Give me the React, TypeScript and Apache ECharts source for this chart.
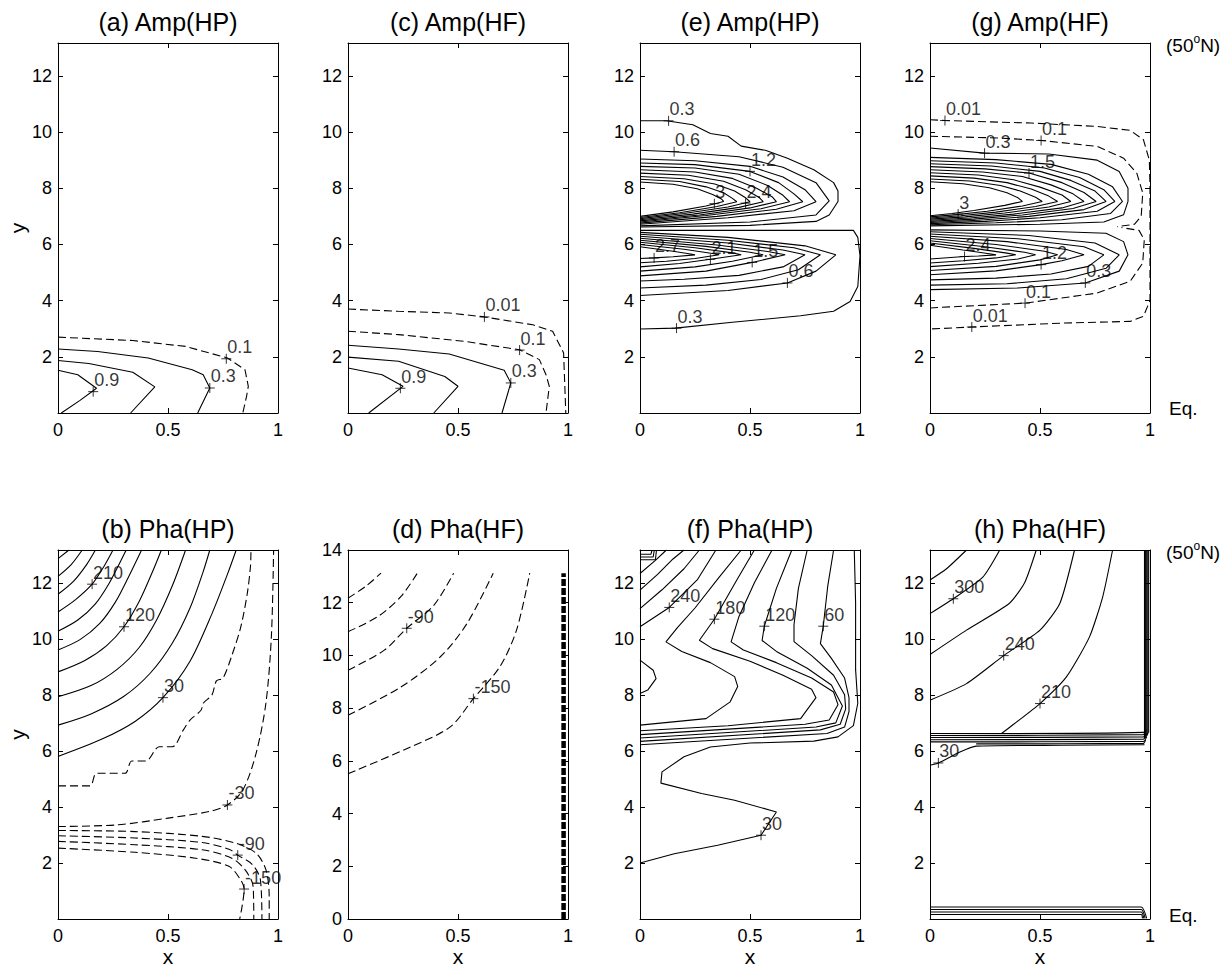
import React, { useEffect, useRef } from "react";
import * as echarts from "echarts";

type Pt = [number, number];
type Lbl = [number, number, string];

const FONT = '"Liberation Sans", Arial, Helvetica, sans-serif';

// ---------- axes ----------
const xTickValues = [0, 0.5, 1];
const xTickLabels = ["0", "0.5", "1"];
const yTickValuesAmp = [2, 4, 6, 8, 10, 12];
const yTickValuesD = [0, 2, 4, 6, 8, 10, 12, 14];
const Y_MAX = 13.17;
const Y_MAX_D = 14;

// ---------- (a) Amp(HP) ----------
const aSolid: Pt[][] = [
  [[0, 2.28], [0.18, 2.19], [0.41, 1.96], [0.61, 1.54], [0.66, 1.36], [0.69, 0.89], [0.635, 0]],
  [[0, 1.87], [0.14, 1.76], [0.34, 1.45], [0.44, 0.93], [0.33, 0]],
  [[0, 1.52], [0.09, 1.36], [0.175, 0.88], [0.1, 0.45], [0.015, 0]],
];
const aDashed: Pt[][] = [
  [[0, 2.7], [0.34, 2.58], [0.58, 2.37], [0.77, 1.96], [0.85, 1.54], [0.865, 0.95], [0.857, 0.59], [0.84, 0]],
];
const aLabels: Lbl[] = [[0.765, 1.93, "0.1"], [0.69, 0.89, "0.3"], [0.16, 0.76, "0.9"]];

// ---------- (c) Amp(HF) ----------
const cSolid: Pt[][] = [
  [[0, 2.41], [0.23, 2.28], [0.46, 2.1], [0.71, 1.52], [0.74, 1.07], [0.7, 0]],
  [[0, 1.99], [0.23, 1.84], [0.44, 1.3], [0.5, 0.95], [0.39, 0]],
  [[0, 1.6], [0.155, 1.36], [0.25, 0.95], [0.094, 0]],
];
const cDashed: Pt[][] = [
  [[0, 3.7], [0.23, 3.62], [0.46, 3.56], [0.62, 3.42], [0.84, 3.14], [0.93, 2.91], [0.98, 2.14], [0.99, 0]],
  [[0, 2.91], [0.23, 2.79], [0.53, 2.55], [0.78, 2.25], [0.87, 1.9], [0.9, 1.36], [0.915, 0.95], [0.9, 0]],
];
const cLabels: Lbl[] = [[0.62, 3.42, "0.01"], [0.78, 2.24, "0.1"], [0.74, 1.07, "0.3"], [0.238, 0.88, "0.9"]];

// ---------- (e) Amp(HP) ----------
const eSolid: Pt[][] = [
  [[0, 10.4], [0.12, 10.4], [0.24, 10.26], [0.32, 9.95], [0.4, 9.85], [0.46, 9.5], [0.57, 9.35], [0.67, 9.07], [0.79, 8.66], [0.88, 8.2], [0.9, 7.9], [0.9, 7.53], [0.86, 7.05], [0.8, 6.82], [0.5, 6.68], [0, 6.62]],
  [[0, 9.35], [0.155, 9.3], [0.45, 9.12], [0.65, 8.75], [0.8, 8.2], [0.86, 7.55], [0.8, 7.05], [0.5, 6.8], [0, 6.66]],
  [[0, 9.04], [0.25, 8.98], [0.5, 8.78], [0.65, 8.4], [0.75, 7.95], [0.8, 7.52], [0.7, 7.2], [0.4, 6.95], [0, 6.72]],
  [[0, 8.9], [0.25, 8.84], [0.5, 8.6], [0.63, 8.2], [0.7, 7.8], [0.74, 7.52], [0.62, 7.25], [0.35, 7.0], [0, 6.76]],
  [[0, 8.78], [0.25, 8.72], [0.45, 8.5], [0.58, 8.1], [0.65, 7.75], [0.68, 7.52], [0.55, 7.27], [0.3, 7.03], [0, 6.8]],
  [[0, 8.66], [0.25, 8.58], [0.42, 8.35], [0.53, 8.0], [0.6, 7.7], [0.62, 7.52], [0.5, 7.3], [0.27, 7.05], [0, 6.84]],
  [[0, 8.54], [0.22, 8.46], [0.38, 8.25], [0.48, 7.95], [0.54, 7.68], [0.56, 7.52], [0.45, 7.32], [0.24, 7.08], [0, 6.88]],
  [[0, 8.42], [0.2, 8.34], [0.34, 8.15], [0.43, 7.9], [0.48, 7.66], [0.5, 7.52], [0.4, 7.33], [0.2, 7.1], [0, 6.92]],
  [[0, 8.32], [0.18, 8.24], [0.3, 8.05], [0.38, 7.84], [0.42, 7.64], [0.44, 7.52], [0.35, 7.35], [0.18, 7.13], [0, 6.96]],
  [[0, 8.22], [0.15, 8.14], [0.26, 7.98], [0.33, 7.78], [0.37, 7.62], [0.38, 7.53], [0.3, 7.37], [0.15, 7.16], [0, 7.0]],
  [[0, 6.5], [0.5, 6.5], [0.97, 6.5], [0.99, 6.25], [1.0, 5.6], [0.99, 4.5], [0.955, 3.97], [0.88, 3.62], [0.73, 3.46], [0.42, 3.23], [0.16, 3.02], [0, 2.99]],
  [[0, 6.43], [0.4, 6.25], [0.75, 5.95], [0.89, 5.63], [0.8, 5.05], [0.67, 4.63], [0.4, 4.36], [0, 4.18]],
  [[0, 6.36], [0.4, 6.15], [0.7, 5.88], [0.82, 5.63], [0.72, 5.1], [0.55, 4.75], [0.3, 4.55], [0, 4.45]],
  [[0, 6.29], [0.4, 6.05], [0.65, 5.8], [0.75, 5.63], [0.65, 5.2], [0.45, 4.9], [0.2, 4.76], [0, 4.7]],
  [[0, 6.22], [0.35, 5.98], [0.58, 5.75], [0.66, 5.63], [0.51, 5.36], [0.3, 5.05], [0, 4.88]],
  [[0, 6.15], [0.3, 5.93], [0.5, 5.72], [0.56, 5.63], [0.42, 5.4], [0.25, 5.2], [0, 5.05]],
  [[0, 6.08], [0.25, 5.88], [0.42, 5.7], [0.46, 5.63], [0.32, 5.47], [0.18, 5.32], [0, 5.2]],
  [[0, 6.0], [0.2, 5.83], [0.33, 5.68], [0.36, 5.63], [0.25, 5.5], [0.12, 5.4], [0, 5.35]],
  [[0, 5.92], [0.15, 5.76], [0.23, 5.66], [0.25, 5.63], [0.15, 5.56], [0.064, 5.52], [0, 5.5]],
];
const eLabels: Lbl[] = [
  [0.13, 10.4, "0.3"], [0.155, 9.3, "0.6"], [0.5, 8.6, "1.2"], [0.338, 7.45, "3"], [0.48, 7.47, "2.4"],
  [0.064, 5.52, "2.7"], [0.32, 5.47, "2.1"], [0.51, 5.36, "1.5"], [0.67, 4.63, "0.6"], [0.166, 3.02, "0.3"],
];

// ---------- (g) Amp(HF) ----------
const gDashed: Pt[][] = [
  [[0, 10.44], [0.068, 10.41], [0.46, 10.32], [0.76, 10.2], [0.91, 10.06], [0.97, 9.73], [0.997, 9.0], [1.0, 8.07], [1.0, 6.0], [1.0, 4.0], [0.97, 3.44], [0.91, 3.26], [0.6, 3.2], [0.19, 3.06], [0, 2.99]],
  [[0, 9.85], [0.31, 9.79], [0.505, 9.7], [0.76, 9.49], [0.88, 9.07], [0.94, 8.54], [0.967, 7.83], [0.96, 7.0], [0.93, 6.72], [0.85, 6.63]],
  [[0, 3.74], [0.432, 3.91], [0.76, 4.27], [0.91, 4.69], [0.967, 5.34], [0.974, 6.17], [0.95, 6.5], [0.87, 6.6]],
];
const gSolid: Pt[][] = [
  [[0, 9.43], [0.248, 9.25], [0.54, 9.22], [0.76, 9.0], [0.86, 8.6], [0.9, 8.0], [0.9, 7.53], [0.88, 7.06], [0.79, 6.8], [0.5, 6.72], [0, 6.66]],
  [[0, 9.1], [0.3, 9.02], [0.55, 8.85], [0.72, 8.5], [0.83, 8.05], [0.875, 7.53], [0.82, 7.1], [0.6, 6.88], [0.3, 6.77], [0, 6.7]],
  [[0, 8.98], [0.3, 8.9], [0.52, 8.72], [0.68, 8.38], [0.79, 7.95], [0.84, 7.53], [0.76, 7.18], [0.5, 6.95], [0.25, 6.82], [0, 6.74]],
  [[0, 8.87], [0.28, 8.79], [0.5, 8.6], [0.64, 8.28], [0.75, 7.9], [0.8, 7.53], [0.7, 7.24], [0.45, 7.0], [0.22, 6.86], [0, 6.78]],
  [[0, 8.77], [0.25, 8.69], [0.45, 8.54], [0.6, 8.2], [0.7, 7.85], [0.755, 7.53], [0.65, 7.28], [0.42, 7.05], [0.2, 6.9], [0, 6.82]],
  [[0, 8.66], [0.24, 8.58], [0.42, 8.42], [0.55, 8.12], [0.65, 7.8], [0.7, 7.53], [0.6, 7.3], [0.38, 7.08], [0.18, 6.94], [0, 6.86]],
  [[0, 8.55], [0.22, 8.47], [0.38, 8.3], [0.5, 8.04], [0.6, 7.76], [0.64, 7.53], [0.54, 7.33], [0.34, 7.12], [0.16, 6.98], [0, 6.9]],
  [[0, 8.44], [0.2, 8.36], [0.35, 8.2], [0.46, 7.97], [0.54, 7.72], [0.58, 7.53], [0.48, 7.35], [0.3, 7.15], [0.14, 7.02], [0, 6.94]],
  [[0, 8.33], [0.18, 8.26], [0.32, 8.1], [0.41, 7.9], [0.48, 7.68], [0.51, 7.53], [0.42, 7.37], [0.26, 7.18], [0.12, 7.06], [0, 6.98]],
  [[0, 8.23], [0.15, 8.16], [0.27, 8.02], [0.35, 7.84], [0.4, 7.66], [0.42, 7.53], [0.34, 7.39], [0.2, 7.21], [0.1, 7.1], [0, 7.02]],
  [[0, 6.52], [0.5, 6.48], [0.8, 6.4], [0.88, 6.1], [0.9, 5.63], [0.86, 5.05], [0.706, 4.63], [0.4, 4.45], [0, 4.39]],
  [[0, 6.45], [0.45, 6.32], [0.75, 6.05], [0.86, 5.63], [0.8, 5.15], [0.62, 4.78], [0.35, 4.6], [0, 4.55]],
  [[0, 6.37], [0.4, 6.2], [0.7, 5.92], [0.79, 5.63], [0.72, 5.22], [0.55, 4.95], [0.3, 4.8], [0, 4.74]],
  [[0, 6.29], [0.35, 6.1], [0.62, 5.82], [0.7, 5.63], [0.6, 5.42], [0.505, 5.28], [0.3, 5.06], [0, 4.92]],
  [[0, 6.21], [0.3, 6.0], [0.52, 5.76], [0.58, 5.63], [0.5, 5.45], [0.3, 5.22], [0, 5.07]],
  [[0, 6.13], [0.25, 5.92], [0.43, 5.72], [0.48, 5.63], [0.4, 5.48], [0.22, 5.33], [0, 5.21]],
  [[0, 6.05], [0.2, 5.86], [0.35, 5.69], [0.39, 5.63], [0.3, 5.52], [0.15, 5.42], [0, 5.34]],
  [[0, 5.97], [0.15, 5.8], [0.27, 5.67], [0.3, 5.63], [0.22, 5.59], [0.157, 5.57], [0, 5.48]],
];
const gLabels: Lbl[] = [
  [0.068, 10.41, "0.01"], [0.505, 9.7, "0.1"], [0.248, 9.25, "0.3"], [0.45, 8.54, "1.5"], [0.128, 7.08, "3"],
  [0.157, 5.57, "2.4"], [0.505, 5.28, "1.2"], [0.706, 4.63, "0.3"], [0.432, 3.91, "0.1"], [0.19, 3.06, "0.01"],
];

// ---------- (b) Pha(HP) ----------
const bSolid: Pt[][] = [
  [[0, 5.8], [0.2, 6.42], [0.35, 7.05], [0.477, 7.9], [0.6, 9.2], [0.7, 10.9], [0.77, 12.3], [0.81, 13.17]],
  [[0, 6.92], [0.15, 7.32], [0.3, 7.95], [0.42, 8.78], [0.52, 9.85], [0.6, 11.1], [0.66, 12.4], [0.69, 13.17]],
  [[0, 7.93], [0.15, 8.33], [0.27, 8.92], [0.37, 9.7], [0.45, 10.7], [0.52, 11.9], [0.58, 13.17]],
  [[0, 8.82], [0.12, 9.22], [0.22, 9.75], [0.3, 10.43], [0.37, 11.35], [0.43, 12.4], [0.47, 13.17]],
  [[0, 9.6], [0.1, 9.97], [0.19, 10.55], [0.26, 11.3], [0.32, 12.2], [0.38, 13.17]],
  [[0, 10.27], [0.09, 10.67], [0.17, 11.25], [0.23, 11.95], [0.28, 12.7], [0.31, 13.17]],
  [[0, 10.96], [0.08, 11.4], [0.155, 11.95], [0.21, 12.6], [0.25, 13.17]],
  [[0, 11.59], [0.07, 12.05], [0.13, 12.65], [0.17, 13.17]],
  [[0, 12.23], [0.06, 12.65], [0.11, 13.17]],
  [[0, 12.86], [0.05, 13.17]],
];
const bDashed: Pt[][] = [
  [[0, 4.75], [0.145, 4.75], [0.175, 5.2], [0.305, 5.2], [0.335, 5.64], [0.4, 5.64], [0.46, 6.15], [0.52, 6.15], [0.57, 6.75], [0.6, 7.1], [0.65, 7.45], [0.66, 7.7], [0.7, 8.0], [0.72, 8.5], [0.75, 8.6], [0.79, 9.4], [0.83, 10.4], [0.86, 11.6], [0.875, 12.6], [0.877, 13.17]],
  [[0, 3.3], [0.27, 3.36], [0.5, 3.6], [0.69, 3.84], [0.77, 4.07], [0.84, 4.6], [0.9, 5.9], [0.945, 7.7], [0.97, 10.1], [0.98, 13.17]],
  [[0, 3.16], [0.35, 3.12], [0.655, 2.95], [0.81, 2.7], [0.9, 2.35], [0.945, 1.76], [0.96, 0.8], [0.96, 0]],
  [[0, 2.97], [0.35, 2.89], [0.655, 2.73], [0.78, 2.48], [0.817, 2.28], [0.884, 1.94], [0.92, 1.4], [0.927, 0]],
  [[0, 2.77], [0.35, 2.65], [0.655, 2.47], [0.79, 2.17], [0.85, 1.76], [0.887, 1.16], [0.89, 0]],
  [[0, 2.53], [0.35, 2.38], [0.625, 2.17], [0.777, 1.88], [0.83, 1.4], [0.846, 1.07], [0.826, 0]],
];
const bLabels: Lbl[] = [
  [0.155, 11.95, "210"], [0.3, 10.43, "120"], [0.477, 7.9, "30"], [0.77, 4.07, "-30"], [0.817, 2.28, "-90"], [0.846, 1.07, "-150"],
];

// ---------- (d) Pha(HF) ----------
const dDashed: Pt[][] = [
  [[0, 12.17], [0.08, 12.62], [0.15, 13.12]],
  [[0, 10.9], [0.135, 11.47], [0.24, 12.23], [0.315, 13.12]],
  [[0, 9.44], [0.165, 10.2], [0.267, 11.03], [0.39, 11.9], [0.48, 13.12]],
  [[0, 7.73], [0.24, 8.8], [0.42, 9.95], [0.54, 11.2], [0.66, 13.12]],
  [[0, 5.51], [0.285, 6.53], [0.465, 7.29], [0.57, 8.36], [0.69, 9.57], [0.766, 10.96], [0.826, 13.12]],
];
const dEdge: Pt[] = [[0.98, 0], [0.98, 13.12]];
const dLabels: Lbl[] = [[0.267, 11.03, "-90"], [0.57, 8.36, "-150"]];

// ---------- (f) Pha(HP) ----------
const fSolid: Pt[][] = [
  [[0, 12.82], [0.07, 12.82], [0.075, 13.17]],
  [[0, 12.92], [0.06, 12.92], [0.065, 13.17]],
  [[0, 13.02], [0.05, 13.02], [0.055, 13.17]],
  [[0, 12.33], [0.07, 12.8], [0.12, 13.17]],
  [[0, 11.74], [0.08, 12.3], [0.15, 12.85], [0.2, 13.17]],
  [[0, 11.08], [0.1, 11.75], [0.2, 12.5], [0.27, 13.17]],
  [[0, 10.43], [0.133, 11.12], [0.26, 12.1], [0.345, 13.17]],
  [[0, 9.24], [0.06, 8.88], [0.073, 8.58], [0.035, 8.17], [0, 8.05]],
  [[0.46, 13.17], [0.36, 12.2], [0.25, 11.1], [0.17, 10.4], [0.118, 9.89], [0.19, 9.55], [0.32, 9.15], [0.43, 8.65], [0.444, 8.3], [0.41, 7.75], [0.3, 7.15], [0, 6.92]],
  [[0.52, 13.17], [0.44, 12.1], [0.338, 10.7], [0.27, 9.95], [0.33, 9.65], [0.5, 9.2], [0.65, 8.7], [0.78, 8.2], [0.8, 7.9], [0.73, 7.15], [0.4, 6.9], [0, 6.72]],
  [[0.6, 13.17], [0.52, 12.0], [0.45, 10.8], [0.414, 9.89], [0.47, 9.6], [0.62, 9.15], [0.78, 8.6], [0.88, 8.1], [0.9, 7.65], [0.86, 7.1], [0.75, 6.95], [0, 6.58]],
  [[0.69, 13.17], [0.62, 11.8], [0.565, 10.45], [0.555, 9.94], [0.62, 9.55], [0.76, 8.95], [0.87, 8.35], [0.92, 7.6], [0.89, 7.0], [0.8, 6.85], [0, 6.46]],
  [[0.76, 13.17], [0.72, 11.8], [0.7, 10.5], [0.7, 9.9], [0.78, 9.4], [0.88, 8.7], [0.93, 8.0], [0.935, 7.5], [0.91, 6.95], [0.82, 6.75], [0, 6.34]],
  [[0.88, 13.17], [0.853, 11.86], [0.833, 10.45], [0.82, 9.83], [0.87, 9.3], [0.93, 8.6], [0.95, 7.9], [0.95, 7.4], [0.93, 6.85], [0.85, 6.62], [0, 6.22]],
  [[0.974, 13.17], [0.98, 11.3], [0.98, 8.9], [0.99, 7.7], [0.97, 6.9], [0.9, 6.5], [0.79, 6.35], [0.5, 6.28], [0.32, 6.14], [0.2, 5.79], [0.1, 5.25], [0.095, 4.85], [0.28, 4.48], [0.43, 4.24], [0.62, 3.82], [0.55, 2.99], [0.353, 2.63], [0.156, 2.33], [0, 2.0]],
];
const fLabels: Lbl[] = [
  [0.133, 11.12, "240"], [0.338, 10.7, "180"], [0.565, 10.45, "120"], [0.833, 10.45, "60"], [0.55, 2.99, "30"],
];

// ---------- (h) Pha(HF) ----------
const hSolid: Pt[][] = [
  [[0, 12.1], [0.075, 12.5], [0.166, 13.17]],
  [[0, 10.9], [0.106, 11.43], [0.24, 12.2], [0.317, 13.17]],
  [[0, 9.44], [0.166, 10.31], [0.36, 11.26], [0.43, 12.0], [0.483, 13.17]],
  [[0, 7.81], [0.166, 8.4], [0.335, 9.4], [0.5, 10.31], [0.59, 11.26], [0.657, 13.17]],
  [[0.325, 6.62], [0.38, 6.95], [0.5, 7.69], [0.62, 8.64], [0.725, 10.07], [0.785, 11.5], [0.83, 13.17]],
  [[0, 5.49], [0.038, 5.57], [0.136, 5.96], [0.21, 6.17], [0.6, 6.2], [0.975, 6.22]],
  [[0, 6.62], [0.325, 6.62], [0.97, 6.66], [0.985, 6.75]],
  [[0, 6.55], [0.97, 6.58], [0.98, 6.7]],
  [[0, 6.48], [0.97, 6.5], [0.99, 6.65]],
  [[0, 6.4], [0.97, 6.42], [0.99, 6.6]],
  [[0, 6.32], [0.97, 6.34], [0.985, 6.5]],
  [[0.21, 6.25], [0.97, 6.27], [0.98, 6.4]],
  [[0.975, 6.45], [0.975, 13.17]],
  [[0.98, 6.5], [0.98, 13.17]],
  [[0.985, 6.55], [0.985, 13.17]],
  [[0.99, 6.6], [0.99, 13.17]],
  [[0.994, 6.65], [0.994, 13.17]],
  [[0, 0.43], [0.96, 0.43], [0.985, 0.02]],
  [[0, 0.34], [0.96, 0.34], [0.978, 0.02]],
  [[0, 0.25], [0.96, 0.25], [0.972, 0.02]],
  [[0, 0.16], [0.96, 0.16], [0.966, 0.02]],
];
const hLabels: Lbl[] = [[0.106, 11.43, "300"], [0.335, 9.4, "240"], [0.5, 7.69, "210"], [0.038, 5.57, "30"]];

// ---------- layout ----------
const COLS = [58, 348, 640, 930];
const ROWS = [43, 550];
const GW = 220;
const GH = 370;

type Panel = {
  title: string; col: number; row: number; ymax: number; yTicks: number[];
  solid: Pt[][]; dashed: Pt[][]; labels: Lbl[]; smooth: number; yName?: string;
};

const panels: Panel[] = [
  { title: "(a) Amp(HP)", col: 0, row: 0, ymax: Y_MAX, yTicks: yTickValuesAmp, solid: aSolid, dashed: aDashed, labels: aLabels, smooth: 0, yName: "y" },
  { title: "(c) Amp(HF)", col: 1, row: 0, ymax: Y_MAX, yTicks: yTickValuesAmp, solid: cSolid, dashed: cDashed, labels: cLabels, smooth: 0 },
  { title: "(e) Amp(HP)", col: 2, row: 0, ymax: Y_MAX, yTicks: yTickValuesAmp, solid: eSolid, dashed: [], labels: eLabels, smooth: 0 },
  { title: "(g) Amp(HF)", col: 3, row: 0, ymax: Y_MAX, yTicks: yTickValuesAmp, solid: gSolid, dashed: gDashed, labels: gLabels, smooth: 0 },
  { title: "(b) Pha(HP)", col: 0, row: 1, ymax: Y_MAX, yTicks: yTickValuesAmp, solid: bSolid, dashed: bDashed, labels: bLabels, smooth: 0.3, yName: "y" },
  { title: "(d) Pha(HF)", col: 1, row: 1, ymax: Y_MAX_D, yTicks: yTickValuesD, solid: [], dashed: dDashed, labels: dLabels, smooth: 0.3 },
  { title: "(f) Pha(HP)", col: 2, row: 1, ymax: Y_MAX, yTicks: yTickValuesAmp, solid: fSolid, dashed: [], labels: fLabels, smooth: 0 },
  { title: "(h) Pha(HF)", col: 3, row: 1, ymax: Y_MAX, yTicks: yTickValuesAmp, solid: hSolid, dashed: [], labels: hLabels, smooth: 0.2 },
];

const PLUS = "path://M0,5L10,5M5,0L5,10";

export default function App() {
  const ref = useRef<HTMLDivElement>(null);
  useEffect(() => {
    if (!ref.current) return;
    const chart = echarts.init(ref.current, null, { renderer: "svg" });
    const grids: any[] = [];
    const xAxes: any[] = [];
    const yAxes: any[] = [];
    const series: any[] = [];
    const graphics: any[] = [];
    const axisLine = { show: true, onZero: false, lineStyle: { color: "#000", width: 1 } };
    const tick = { show: true, inside: true, length: 5, lineStyle: { color: "#000", width: 1 } };
    const tickLabel = { color: "#000", fontSize: 18, fontFamily: FONT };

    panels.forEach((p, i) => {
      const left = COLS[p.col];
      const top = ROWS[p.row];
      grids.push({ left, top, width: GW, height: GH, containLabel: false });
      xAxes.push({
        gridIndex: i, type: "value", position: "bottom", min: 0, max: 1, interval: 0.5,
        axisLine, axisTick: tick, splitLine: { show: false },
        axisLabel: {
          ...tickLabel, margin: 8,
          formatter: (v: number) => {
            const k = xTickValues.indexOf(v);
            return k >= 0 ? xTickLabels[k] : "";
          },
        },
        name: p.row === 1 ? "x" : "", nameLocation: "middle", nameGap: 27,
        nameTextStyle: { color: "#000", fontSize: 21, fontFamily: FONT },
      });
      xAxes.push({
        gridIndex: i, type: "value", position: "top", min: 0, max: 1, interval: 0.5,
        axisLine, axisTick: tick, splitLine: { show: false }, axisLabel: { show: false },
      });
      const yt = p.yTicks;
      yAxes.push({
        gridIndex: i, type: "value", position: "left", min: 0, max: p.ymax, interval: 2,
        axisLine, axisTick: tick, splitLine: { show: false },
        axisLabel: { ...tickLabel, margin: 6, formatter: (v: number) => (yt.indexOf(v) >= 0 ? String(v) : "") },
        name: p.yName || "", nameLocation: "middle", nameRotate: 90, nameGap: 30,
        nameTextStyle: { color: "#000", fontSize: 21, fontFamily: FONT },
      });
      yAxes.push({
        gridIndex: i, type: "value", position: "right", min: 0, max: p.ymax, interval: 2,
        axisLine, axisTick: tick, splitLine: { show: false }, axisLabel: { show: false },
      });

      const addLine = (pts: Pt[], dashed: boolean) => {
        series.push({
          type: "line", xAxisIndex: 2 * i, yAxisIndex: 2 * i, data: pts,
          showSymbol: false, symbol: "none", silent: true, smooth: p.smooth || false,
          lineStyle: { color: "#000", width: 1.1, type: dashed ? [8, 4] : "solid" },
          z: 3,
        });
      };
      p.solid.forEach((c) => addLine(c, false));
      p.dashed.forEach((c) => addLine(c, true));
      if (p.title.startsWith("(d)")) {
        series.push({
          type: "line", xAxisIndex: 2 * i, yAxisIndex: 2 * i, data: dEdge,
          showSymbol: false, symbol: "none", silent: true,
          lineStyle: { color: "#000", width: 4.5, type: [7, 2] }, z: 3,
        });
      }
      series.push({
        type: "scatter", xAxisIndex: 2 * i, yAxisIndex: 2 * i, silent: true,
        symbol: PLUS, symbolSize: 10,
        itemStyle: { color: "transparent", borderColor: "#000", borderWidth: 1 },
        data: p.labels.map((l) => ({ value: [l[0], l[1]], name: l[2] })),
        label: {
          show: true, position: "top", align: "left", distance: 0, offset: [1, 3],
          formatter: "{b}", color: "#000", fontSize: 18, fontFamily: FONT,
        },
        z: 5,
      });

      graphics.push({
        type: "text", x: left + GW / 2, y: top - 21,
        style: {
          text: p.title, fill: "#000", font: `25px ${FONT}`,
          textAlign: "center", textVerticalAlign: "middle", align: "center", verticalAlign: "middle",
        },
      });
    });

    // side annotations for the right-hand column
    [0, 1].forEach((r) => {
      const top = ROWS[r];
      graphics.push({
        type: "text", x: 1166, y: top + 2,
        style: {
          text: "{a|(50}{s|o}{a|N)}", fill: "#000",
          textAlign: "left", textVerticalAlign: "middle", align: "left", verticalAlign: "middle",
          rich: {
            a: { fontSize: 19, fontFamily: FONT, lineHeight: 24, fill: "#000", color: "#000" },
            s: { fontSize: 12, fontFamily: FONT, lineHeight: 24, verticalAlign: "top", fill: "#000", color: "#000" },
          },
        },
      });
      graphics.push({
        type: "text", x: 1169, y: top + GH - 5,
        style: {
          text: "Eq.", fill: "#000", font: `19px ${FONT}`,
          textAlign: "left", textVerticalAlign: "middle", align: "left", verticalAlign: "middle",
        },
      });
    });

    chart.setOption({
      animation: false,
      backgroundColor: "#fff",
      grid: grids,
      xAxis: xAxes,
      yAxis: yAxes,
      series,
      graphic: graphics,
    });
    return () => chart.dispose();
  }, []);
  return <div ref={ref} style={{ position: "fixed", left: 0, top: 0, width: 1228, height: 968 }} />;
}
